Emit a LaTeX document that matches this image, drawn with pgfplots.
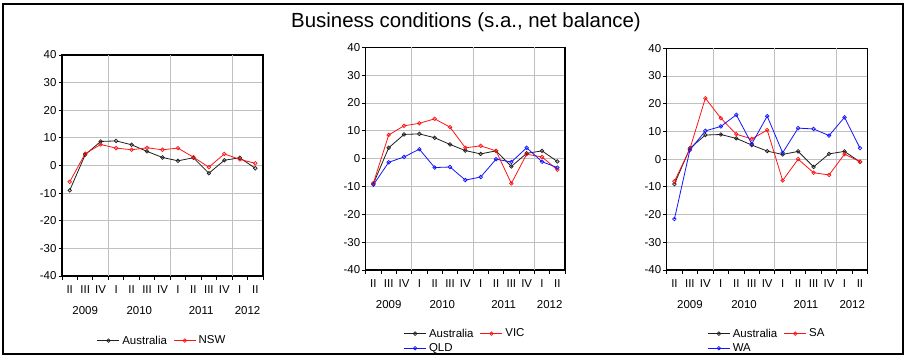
\documentclass[border=0pt]{standalone}
\usepackage{fontspec}
\setmainfont{Liberation Sans}
\usepackage{pgfplots}
\usepackage{pgfplotstable}
\pgfplotsset{compat=1.18}
\definecolor{gridgray}{RGB}{192,192,192}
\definecolor{ausblack}{RGB}{30,30,30}
\definecolor{sred}{RGB}{255,20,20}
\definecolor{sblue}{RGB}{20,20,255}

\pgfplotstableread{
q  aus   nsw   vic   qld   sa    wa
0  -9.0  -5.9  -8.8  -9.4  -8.0  -21.6
1   3.9   4.3   8.5  -1.3   3.7   3.3
2   8.7   7.6  11.8   0.6  22.0  10.2
3   8.9   6.3  12.7   3.4  14.8  11.8
4   7.5   5.7  14.3  -3.2   9.0  16.0
5   5.1   6.4  11.3  -3.0   7.3   5.5
6   2.9   5.7   3.9  -7.7  10.5  15.5
7   1.7   6.3   4.6  -6.6  -7.7   2.3
8   2.8   3.0   2.8  -0.2   0.0  11.2
9  -2.8  -0.6  -8.9  -1.2  -4.9  10.9
10  1.9   4.2   1.6   3.9  -5.7   8.5
11  2.8   2.2   0.6  -1.1   1.8  15.1
12 -1.0   0.8  -4.0  -3.2  -0.9   4.0
}\data

\newcommand{\lblfont}{\fontsize{11.5}{13}\selectfont}
\pgfplotsset{
 panel/.style={
  scale only axis, clip=false,
  xmin=-0.5, xmax=12.5, ymin=-40, ymax=40,
  axis line style={line width=1.1bp},
  ytick={-40,-30,...,40},
  yticklabels={-40,-30,-20,-10,0,10,20,30,40},
  ymajorgrids, grid style={gridgray, line width=0.9bp},
  xtick={0,...,12},
  xticklabels={II,III,IV,I,II,III,IV,I,II,III,IV,I,II},
  minor xtick={-0.5,0.5,...,12.5},
  extra x ticks={2.5,6.5,10.5}, extra x tick labels={},
  extra x tick style={grid=major},
  tick align=outside, xtick pos=bottom, ytick pos=left,
  major x tick style={draw=none},
  minor x tick style={black, line width=0.9bp},
  minor tick length=3.5bp, major tick length=3.5bp,
  major y tick style={black, line width=0.9bp},
  tick label style={font=\lblfont},
  x tick label style={yshift=-2.5bp},
  y tick label style={xshift=1.5bp},
  legend style={draw=none, fill=none, at={(0.5,0)}, anchor=north, yshift=-57bp,
    font=\lblfont, inner sep=0pt,
    nodes={inner sep=2.5bp},
    /tikz/every even column/.append style={column sep=4bp}},
  legend columns=2, legend cell align=left,
  legend image code/.code={\draw[mark repeat=2,mark phase=2,#1] plot coordinates {(0bp,0bp) (11bp,0bp) (22bp,0bp)};},
 },
 ser/.style={line width=0.8bp, mark=o, mark size=1.8bp, mark options={line width=0.7bp, solid}},
 aus/.style={ser, ausblack},
 rser/.style={ser, sred},
 bser/.style={ser, sblue},
}
\newcommand{\years}{%
  \node[font=\lblfont] at (axis cs:1,-40) [yshift=-34.5bp] {2009};
  \node[font=\lblfont] at (axis cs:4.5,-40) [yshift=-34.5bp] {2010};
  \node[font=\lblfont] at (axis cs:8.5,-40) [yshift=-34.5bp] {2011};
  \node[font=\lblfont] at (axis cs:11.5,-40) [yshift=-34.5bp] {2012};
}

\begin{document}
\begin{tikzpicture}
\useasboundingbox (0bp,0bp) rectangle (908bp,359bp);
\draw[line width=1.2bp] (3bp,5bp) rectangle (903bp,355bp);
\node[anchor=base, font=\fontsize{20.5}{24}\selectfont] at (466bp,331.7bp) {Business conditions (s.a., net balance)};

\begin{axis}[panel, at={(62bp,83bp)}, anchor=south west, width=201bp, height=221bp]
\addplot[aus] table[x=q, y=aus] {\data};
\addlegendentry{Australia}
\addplot[rser] table[x=q, y=nsw] {\data};
\addlegendentry{NSW}
\years
\end{axis}

\begin{axis}[panel, at={(365.7bp,89bp)}, anchor=south west, width=199.3bp, height=222.7bp, legend style={yshift=1bp}]
\addplot[aus] table[x=q, y=aus] {\data};
\addlegendentry{Australia}
\addplot[rser] table[x=q, y=vic] {\data};
\addlegendentry{VIC}
\addplot[bser] table[x=q, y=qld] {\data};
\addlegendentry{QLD}
\years
\end{axis}

\begin{axis}[panel, at={(666.7bp,89bp)}, anchor=south west, width=201bp, height=221.7bp, legend style={yshift=1bp}]
\addplot[aus] table[x=q, y=aus] {\data};
\addlegendentry{Australia}
\addplot[rser] table[x=q, y=sa] {\data};
\addlegendentry{SA}
\addplot[bser] table[x=q, y=wa] {\data};
\addlegendentry{WA}
\years
\end{axis}
\end{tikzpicture}
\end{document}
